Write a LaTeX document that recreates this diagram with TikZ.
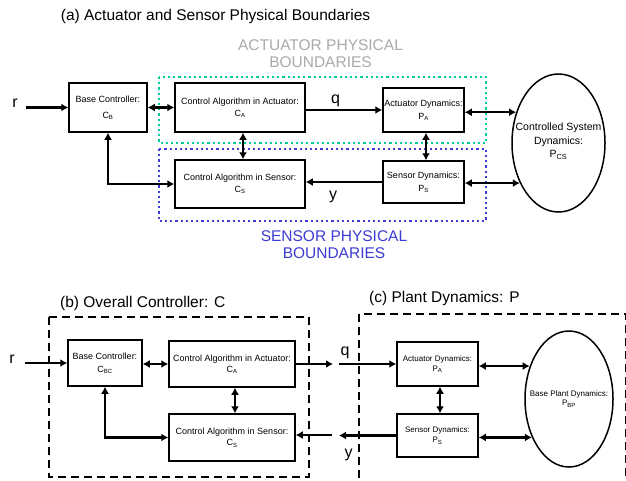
\documentclass[tikz,border=0pt]{standalone}
\usepackage{fontspec}
\setmainfont{Liberation Sans}
\usetikzlibrary{arrows.meta,shapes.geometric}
\definecolor{dotgreen}{RGB}{0,204,153}
\definecolor{dotblue}{RGB}{60,60,210}
\definecolor{lblgray}{RGB}{170,170,170}
\begin{document}
\begin{tikzpicture}[x=1pt,y=-1pt,
  blk/.style={draw, line width=1.5pt, inner sep=0pt, align=center},
  fa/.style={font=\fontsize{9}{12}\selectfont},
  fb/.style={font=\fontsize{9}{11.5}\selectfont},
  fc/.style={font=\fontsize{8}{10}\selectfont},
  oval/.style={draw, ellipse, line width=1.5pt, inner sep=0pt},
  conn/.style={line width=2.4pt, -{Latex[length=7pt,width=8pt]}},
  conn2/.style={line width=2.4pt, {Latex[length=7pt,width=8pt]}-{Latex[length=7pt,width=8pt]}},
  sig/.style={font=\fontsize{16}{16}\selectfont, inner sep=0pt},
  ttl/.style={font=\fontsize{15.5}{18}\selectfont, inner sep=0pt, anchor=west},
  bnd/.style={font=\fontsize{15.5}{17.5}\selectfont, inner sep=0pt, align=center},
  dotbox/.style={line width=2.4pt, dash pattern=on 2.2pt off 3pt},
  dashbox/.style={line width=2.7pt, dash pattern=on 8pt off 5pt},
]
\useasboundingbox (0,0) rectangle (626,480);
\fill[white] (0,0) rectangle (626,480);
\clip (0,0) rectangle (626,480);

% ---------- (a) ----------
\node[ttl] (ttlA) at (60.7,16.5) {(a) Actuator and Sensor Physical Boundaries};
\node[bnd, text=lblgray] (actb) at (320.5,53.5) {ACTUATOR PHYSICAL\\BOUNDARIES};
\node[bnd, text=dotblue] (senb) at (334,244.5) {SENSOR PHYSICAL\\BOUNDARIES};
\draw[dotbox, dotgreen] (159,77) rectangle (486,143);
\draw[dotbox, dotblue] (159,149) rectangle (486,221);

\node[blk, font=\fontsize{9}{16}\selectfont, minimum width=78pt, minimum height=49pt] (baseA) at (108,107.5) {Base Controller:\\C\textsubscript{B}};
\node[blk, fa, minimum width=130pt, minimum height=49pt] (caA) at (240,107.5) {Control Algorithm in Actuator:\\C\textsubscript{A}};
\node[blk, fa, minimum width=130pt, minimum height=48pt] (csA) at (240,184) {Control Algorithm in Sensor:\\C\textsubscript{S}};
\node[blk, font=\fontsize{9}{13.5}\selectfont, minimum width=81pt, minimum height=44pt] (adA) at (423.5,110) {Actuator Dynamics:\\P\textsubscript{A}};
\node[blk, font=\fontsize{9}{13}\selectfont, minimum width=81pt, minimum height=42pt] (sdA) at (423.5,182) {Sensor Dynamics:\\P\textsubscript{S}};
\node[oval, minimum width=93pt, minimum height=138pt] (ellA) at (558.5,143) {};
\node[font=\fontsize{10.5}{13.5}\selectfont, align=center, inner sep=0pt] (ellAt) at (558.5,141.5) {Controlled System\\Dynamics:\\P\textsubscript{CS}};

\coordinate (rA) at (26,107.5);
\node[sig] (rlblA) at (15,103) {r};
\draw[conn] (rA) -- (baseA.west);
\draw[conn2] (baseA.east) -- (caA.west);
\draw[conn] (caA.east |- adA.west) -- (adA.west);
\node[sig] (qA) at (335.5,101) {q};
\draw[conn2] ([xshift=3pt]caA.south) -- ([xshift=3pt]csA.north);
\draw[conn2] (baseA.south) |- (csA.west);
\draw[conn] (sdA.west) -- (sdA.west -| csA.east);
\node[sig] (yA) at (333,197) {y};
\draw[conn2] ([xshift=2.5pt]adA.south) -- ([xshift=2.5pt]sdA.north);
\draw[conn2] (adA.east |- ellA.144) -- (ellA.144);
\draw[conn2] (sdA.east |- ellA.226.5) -- (ellA.226.5);

% ---------- (b) ----------
\node[ttl] (ttlB) at (60,303.5) {(b) Overall Controller: C};
\draw[dashbox] (49,317) rectangle (309,477);
\node[blk, font=\fontsize{9}{13}\selectfont, minimum width=74pt, minimum height=46pt] (baseB) at (105,363) {Base Controller:\\C\textsubscript{BC}};
\node[blk, fb, minimum width=126pt, minimum height=46pt] (caB) at (232,364) {Control Algorithm in Actuator:\\C\textsubscript{A}};
\node[blk, fb, minimum width=126pt, minimum height=47pt] (csB) at (232,437.5) {Control Algorithm in Sensor:\\C\textsubscript{S}};

\coordinate (rB) at (25,363);
\node[sig] (rlblB) at (12,359) {r};
\draw[conn] (rB) -- (baseB.west);
\draw[conn2] (baseB.east |- caB.west) -- (caB.west);
\coordinate (qB) at (333,364);
\draw[conn] (caB.east) -- (qB);
\coordinate (yB) at (332,435);
\draw[conn] (yB) -- (yB -| csB.east);
\draw[conn2] ([xshift=3pt]caB.south) -- ([xshift=3pt]csB.north);
\draw[conn2] (baseB.south) |- (csB.west);

% ---------- (c) ----------
\node[ttl] (ttlC) at (369,298.5) {(c) Plant Dynamics: P};
\draw[dashbox] (359,314) rectangle (626.5,495);
\node[blk, fc, minimum width=81pt, minimum height=44pt] (adC) at (437.5,364) {Actuator Dynamics:\\P\textsubscript{A}};
\node[blk, fc, minimum width=81pt, minimum height=43pt] (sdC) at (437.5,435.5) {Sensor Dynamics:\\P\textsubscript{S}};
\node[oval, minimum width=88pt, minimum height=136pt] (ellC) at (569,399) {};
\node[font=\fontsize{8}{9}\selectfont, align=center, inner sep=0pt] (ellCt) at (569,399) {Base Plant Dynamics:\\P\textsubscript{BP}};

\coordinate (qC) at (339,364);
\node[sig] (qlblC) at (345,353) {q};
\draw[conn] (qC) -- (adC.west);
\coordinate (yC) at (339,435.5);
\node[sig] (ylblC) at (348.5,454.5) {y};
\draw[conn] (sdC.west) -- (yC);
\draw[conn2] ([xshift=2.5pt]adC.south) -- ([xshift=2.5pt]sdC.north);
\draw[conn2] (adC.east |- ellC.140.5) -- (ellC.140.5);
\draw[conn2] (sdC.east |- ellC.226.2) -- (ellC.226.2);
\end{tikzpicture}
\end{document}
